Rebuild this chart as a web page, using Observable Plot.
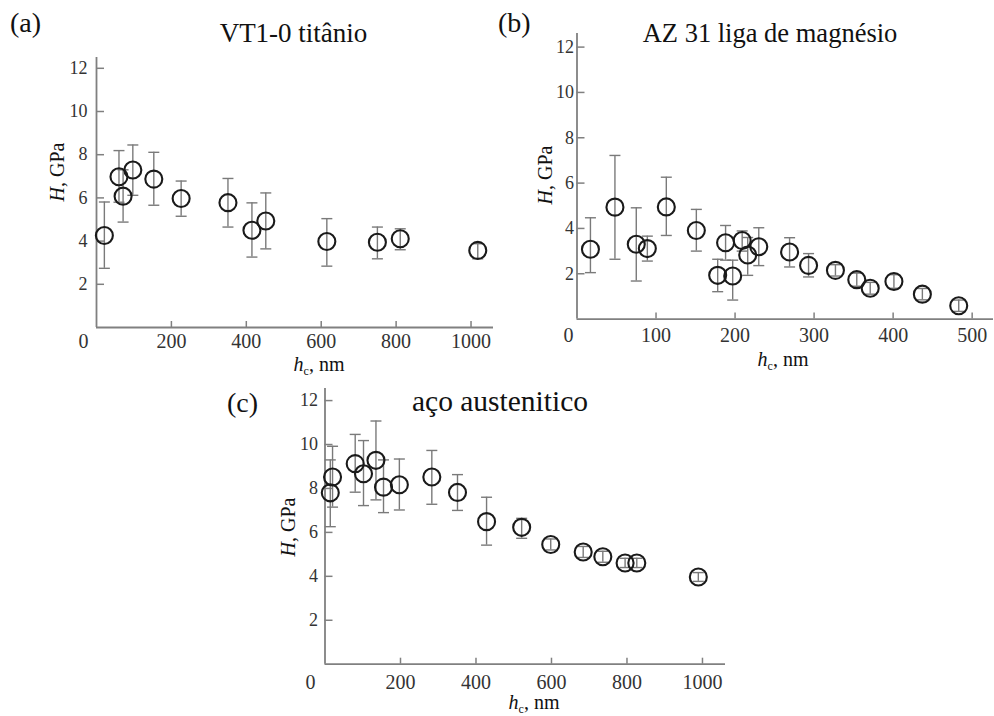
<!DOCTYPE html>
<html><head><meta charset="utf-8">
<script src="https://cdn.jsdelivr.net/npm/d3@7"></script>
<script src="https://cdn.jsdelivr.net/npm/@observablehq/plot@0.6"></script>
<style>
body{margin:0;background:#fff;}
#root{position:relative;width:994px;height:716px;overflow:hidden;font-family:"Liberation Serif","Times New Roman",serif;}
.p{position:absolute;}
.t{position:absolute;white-space:nowrap;line-height:1;color:#111;font-family:"Liberation Serif","Times New Roman",serif;}
.t sub{font-size:0.6em;vertical-align:-0.3em;line-height:0;}
</style></head><body>
<div id="root"></div>
<script>
// ---- data: (a) VT1-0 titânio ----
const tiX  = [21, 60, 71, 97, 153, 226, 351, 415, 452, 615, 750, 811, 1018];
const tiH  = [4.26, 6.98, 6.08, 7.29, 6.87, 5.97, 5.78, 4.50, 4.93, 3.98, 3.95, 4.11, 3.57];
const tiLo = [2.74, 5.80, 4.88, 6.12, 5.66, 5.15, 4.65, 3.26, 3.64, 2.84, 3.18, 3.60, 3.18];
const tiHi = [5.81, 8.19, 7.30, 8.45, 8.11, 6.78, 6.90, 5.77, 6.23, 5.04, 4.65, 4.57, 3.88];
// ---- data: (b) AZ 31 liga de magnésio ----
const mgX  = [17, 48, 75, 89, 113, 151, 178, 188, 197, 209, 216, 230, 269, 293, 327, 354, 371, 401, 437, 483];
const mgH  = [3.08, 4.94, 3.30, 3.11, 4.95, 3.91, 1.93, 3.37, 1.90, 3.47, 2.83, 3.19, 2.96, 2.37, 2.15, 1.74, 1.36, 1.66, 1.10, 0.59];
const mgLo = [2.05, 2.64, 1.68, 2.56, 3.69, 3.00, 1.21, 2.60, 0.84, 3.00, 1.93, 2.36, 2.30, 1.86, 1.90, 1.45, 1.10, 1.36, 0.85, 0.34];
const mgHi = [4.47, 7.22, 4.91, 3.66, 6.26, 4.84, 2.64, 4.13, 2.60, 3.89, 3.60, 4.03, 3.59, 2.89, 2.40, 2.03, 1.62, 1.96, 1.35, 0.84];
// ---- data: (c) aço austenitico ----
const stX  = [14, 20, 80, 102, 135, 155, 197, 283, 351, 428, 521, 598, 684, 736, 795, 826, 989];
const stH  = [7.80, 8.52, 9.13, 8.67, 9.28, 8.06, 8.17, 8.52, 7.82, 6.49, 6.23, 5.45, 5.11, 4.89, 4.61, 4.61, 3.97];
const stLo = [6.26, 7.15, 7.83, 7.22, 7.48, 6.90, 7.02, 7.28, 7.00, 5.42, 5.73, 5.20, 4.86, 4.64, 4.40, 4.40, 3.77];
const stHi = [9.30, 9.92, 10.46, 10.18, 11.07, 9.30, 9.34, 9.73, 8.63, 7.60, 6.64, 5.70, 5.36, 5.14, 4.82, 4.82, 4.17];
// ---- ticks & labels ----
const yTicks = [2, 4, 6, 8, 10, 12];
const xTicksLong = [200, 400, 600, 800, 1000];
const xTicksMg = [100, 200, 300, 400, 500];
const titles = ["VT1-0 titânio", "AZ 31 liga de magnésio", "aço austenitico"];
const letters = ["(a)", "(b)", "(c)"];

const axisColor = "#808080", errColor = "#7a7a7a", labelColor = "#333";
const serif = "Liberation Serif";
const cap = {draw(ctx, size){ const w = Math.sqrt(size / Math.PI); ctx.moveTo(-w, 0); ctx.lineTo(w, 0); }};

const root = document.getElementById("root");

function panel(c) {
  const rows = c.x.map((x, i) => ({x, h: c.h[i], lo: c.lo[i], hi: c.hi[i]}));
  const plot = Plot.plot({
    width: c.w, height: c.hgt,
    marginLeft: c.ml, marginRight: c.mr, marginTop: c.mt, marginBottom: c.mb,
    style: {fontFamily: serif, fontSize: "19px", color: labelColor, background: "transparent", overflow: "visible"},
    x: {domain: [0, c.xmax]},
    y: {domain: [0, c.ymax]},
    marks: [
      Plot.ruleX([0], {stroke: axisColor, strokeWidth: 1.8}),
      Plot.ruleY([0], {stroke: axisColor, strokeWidth: 1.8}),
      Plot.axisX(c.xticks, {tickSize: -6, tickPadding: c.xpad, tickFormat: d => String(d), stroke: axisColor, strokeWidth: 1.5, fill: labelColor, fontSize: 20, fontFamily: serif, label: null}),
      Plot.axisY(yTicks, {tickSize: -8, tickPadding: c.ypad, tickFormat: d => String(d), stroke: axisColor, strokeWidth: 1.5, fill: labelColor, fontSize: 18, fontFamily: serif, label: null}),
      Plot.text([0], {x: d => d, y: () => 0, text: d => String(d), dx: c.zdx, dy: c.zdy, fill: labelColor, fontSize: 20, fontFamily: serif}),
      Plot.ruleX(rows, {x: "x", y1: "lo", y2: "hi", stroke: errColor, strokeWidth: 1.4}),
      Plot.dot(rows, {x: "x", y: "lo", symbol: cap, r: 5.5, stroke: errColor, strokeWidth: 1.4, fill: "none"}),
      Plot.dot(rows, {x: "x", y: "hi", symbol: cap, r: 5.5, stroke: errColor, strokeWidth: 1.4, fill: "none"}),
      Plot.dot(rows, {x: "x", y: "h", r: 8.5, stroke: "#1a1a1a", strokeWidth: 2.1, fill: "none"})
    ]
  });
  plot.classList.add("p");
  plot.style.left = c.left + "px";
  plot.style.top = c.top + "px";
  root.appendChild(plot);
}

function text(html, x, baseline, size, anchor) {
  const d = document.createElement("div");
  d.className = "t";
  d.innerHTML = html;
  d.style.fontSize = size + "px";
  d.style.left = x + "px";
  d.style.top = (baseline - 0.86 * size) + "px";
  if (anchor === "middle") d.style.transform = "translateX(-50%)";
  root.appendChild(d);
}
function ylab(x, y, size) {
  const d = document.createElement("div");
  d.className = "t";
  d.innerHTML = "<i>H</i>, GPa";
  d.style.fontSize = size + "px";
  d.style.left = x + "px";
  d.style.top = y + "px";
  d.style.transform = "translate(-50%,-50%) rotate(-90deg)";
  root.appendChild(d);
}
function xlab(x, y, size) {
  const d = document.createElement("div");
  d.className = "t";
  d.innerHTML = "<i>h</i><sub>c</sub>, nm";
  d.style.fontSize = size + "px";
  d.style.left = x + "px";
  d.style.top = y + "px";
  d.style.transform = "translate(-50%,-50%)";
  root.appendChild(d);
}

panel({x: tiX, h: tiH, lo: tiLo, hi: tiHi, xticks: xTicksLong, xmax: 1060, ymax: 12.5,
  left: 0, top: 0, w: 520, hgt: 370, ml: 96, mr: 27, mt: 57, mb: 43,
  xpad: 12.5, ypad: 17, zdx: -13, zdy: 14});
panel({x: mgX, h: mgH, lo: mgLo, hi: mgHi, xticks: xTicksMg, xmax: 527, ymax: 12.6,
  left: 490, top: 0, w: 504, hgt: 370, ml: 86.5, mr: 1, mt: 33, mb: 51.4,
  xpad: 15, ypad: 11, zdx: -8.5, zdy: 16.5});
panel({x: stX, h: stH, lo: stLo, hi: stHi, xticks: xTicksLong, xmax: 1061, ymax: 12.55,
  left: 220, top: 370, w: 520, hgt: 346, ml: 104.5, mr: 15, mt: 18, mb: 52.3,
  xpad: 17, ypad: 15, zdx: -14.5, zdy: 18});

text(letters[0], 10, 33, 28);
text(letters[1], 498, 33, 28);
text(letters[2], 227, 413, 28);
text(titles[0], 293.5, 43, 27, "middle");
text(titles[1], 770, 43, 26.5, "middle");
text(titles[2], 500, 412, 29.5, "middle");
ylab(57, 172, 20);
ylab(545, 175, 20);
ylab(288, 527, 20);
xlab(319, 364, 20);
xlab(783, 359, 20);
xlab(534, 702, 20);
</script>
</body></html>
